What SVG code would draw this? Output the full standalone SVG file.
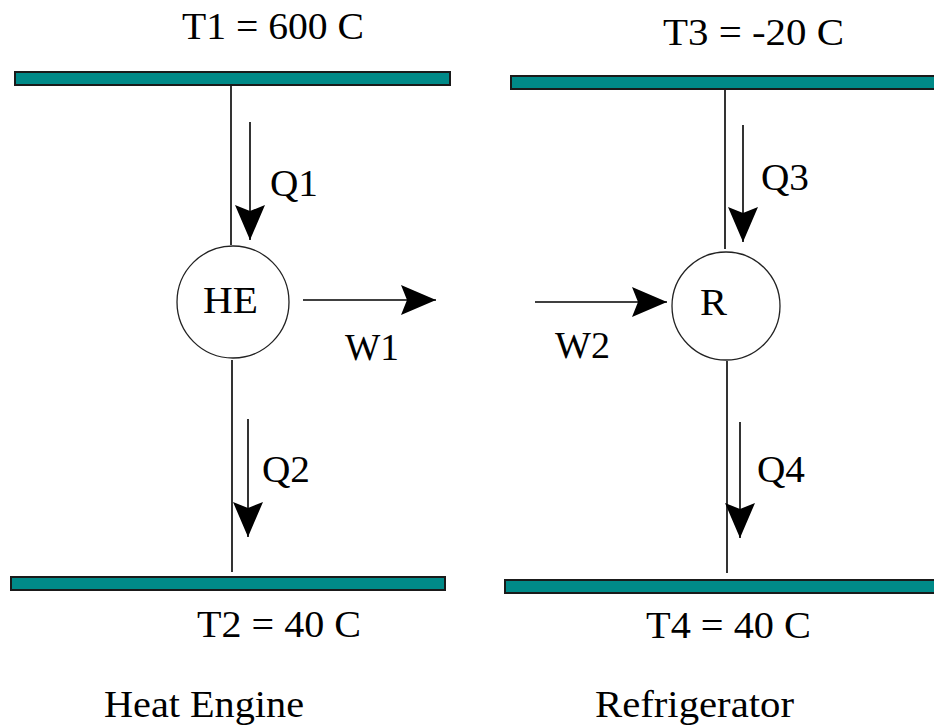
<svg xmlns="http://www.w3.org/2000/svg" width="934" height="727" viewBox="0 0 934 727" font-family="'Liberation Serif', 'Times New Roman', Tinos, 'DejaVu Serif', FreeSerif, serif">
<style>
.bar{fill:#008a88;stroke:#1a1a1a;stroke-width:2}
.ln{stroke:#000;stroke-width:1.6;fill:none}
.node{fill:#fff;stroke:#222;stroke-width:1.3}
text{font-size:37px;fill:#000}
</style>
<defs>
<marker id="ah" markerWidth="36" markerHeight="30" refX="35" refY="15" orient="auto" markerUnits="userSpaceOnUse">
<polygon points="0,0 35,15 0,30 6,15" fill="#000"/>
</marker>
</defs>
<rect width="934" height="727" fill="#fff"/>
<g id="reservoirs">
<g id="T1"><rect class="bar" x="15" y="72" width="435" height="13"/><text x="182" y="39" textLength="182" lengthAdjust="spacingAndGlyphs">T1 = 600 C</text></g>
<g id="T3"><rect class="bar" x="511" y="76" width="424" height="13"/><text x="663" y="45" textLength="181" lengthAdjust="spacingAndGlyphs">T3 = -20 C</text></g>
<g id="T2"><rect class="bar" x="11" y="577" width="434" height="13"/><text x="197" y="637" textLength="164" lengthAdjust="spacingAndGlyphs">T2 = 40 C</text></g>
<g id="T4"><rect class="bar" x="505" y="580" width="430" height="13"/><text x="646" y="638" textLength="165" lengthAdjust="spacingAndGlyphs">T4 = 40 C</text></g>
</g>
<g id="connectors">
<line class="ln" x1="231" y1="86" x2="231" y2="245"/>
<line class="ln" x1="232" y1="360" x2="232" y2="572"/>
<line class="ln" x1="725" y1="90" x2="725" y2="249"/>
<line class="ln" x1="727" y1="361" x2="727" y2="573"/>
<line class="ln" x1="250" y1="122" x2="250" y2="240" marker-end="url(#ah)"/>
<line class="ln" x1="248" y1="419" x2="248" y2="537" marker-end="url(#ah)"/>
<line class="ln" x1="743" y1="125" x2="743" y2="242" marker-end="url(#ah)"/>
<line class="ln" x1="740" y1="422" x2="740" y2="538" marker-end="url(#ah)"/>
<line class="ln" x1="303" y1="300" x2="436" y2="300" marker-end="url(#ah)"/>
<line class="ln" x1="535" y1="302" x2="667" y2="302" marker-end="url(#ah)"/>
<text x="270" y="196" textLength="48" lengthAdjust="spacingAndGlyphs">Q1</text>
<text x="262" y="482" textLength="48" lengthAdjust="spacingAndGlyphs">Q2</text>
<text x="761" y="190" textLength="48" lengthAdjust="spacingAndGlyphs">Q3</text>
<text x="757" y="482" textLength="48" lengthAdjust="spacingAndGlyphs">Q4</text>
<text x="345" y="360" textLength="54" lengthAdjust="spacingAndGlyphs">W1</text>
<text x="555" y="358" textLength="55" lengthAdjust="spacingAndGlyphs">W2</text>
</g>
<g id="HE"><circle class="node" cx="233" cy="302" r="56"/><text x="203" y="313" textLength="55" lengthAdjust="spacingAndGlyphs">HE</text></g>
<g id="R"><circle class="node" cx="726" cy="306" r="54"/><text x="700" y="315" textLength="27" lengthAdjust="spacingAndGlyphs">R</text></g>
<g id="labels">
<text x="104" y="717" textLength="200" lengthAdjust="spacingAndGlyphs">Heat Engine</text>
<text x="595" y="717" textLength="199" lengthAdjust="spacingAndGlyphs">Refrigerator</text>
</g>
</svg>
